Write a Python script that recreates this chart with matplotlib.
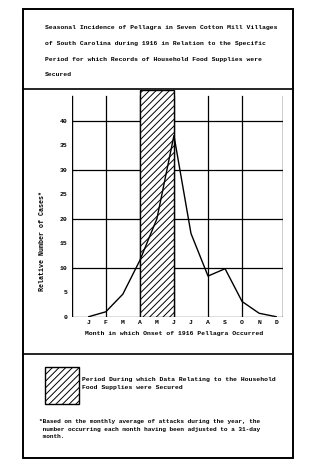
import matplotlib
matplotlib.use("Agg")
import matplotlib.pyplot as plt
from matplotlib.patches import Rectangle
from matplotlib.lines import Line2D

# data
months = list(range(1, 13))
month_labels = ["J", "F", "M", "A", "M", "J", "J", "A", "S", "O", "N", "D"]
cases = [0, 1, 4.6, 11.5, 20, 37, 17, 8.3, 9.8, 3.1, 0.7, 0]
yticks = [0, 5, 10, 15, 20, 25, 30, 35, 40]
survey_period = (4, 6)  # April to June

title_lines = [
    "Seasonal Incidence of Pellagra in Seven Cotton Mill Villages",
    "of South Carolina during 1916 in Relation to the Specific",
    "Period for which Records of Household Food Supplies were",
    "Secured",
]
legend_lines = [
    "Period During which Data Relating to the Household",
    "Food Supplies were Secured",
]
note_lines = [
    "*Based on the monthly average of attacks during the year, the",
    " number occurring each month having been adjusted to a 31-day",
    " month.",
]

W, H = 310, 475
font = "Liberation Mono"
plt.rcParams["hatch.linewidth"] = 0.7

fig = plt.figure(figsize=(W / 100, H / 100), dpi=100)
fig.patch.set_facecolor("white")


def fx(px):
    return px / W


def fy(py):
    return 1 - py / H


# outer frame and dividers
fig.patches.append(Rectangle((fx(23), fy(458)), fx(270), 449 / H, transform=fig.transFigure,
                             fill=False, lw=1.4, ec="black"))
for py in [89, 354]:
    fig.lines.append(Line2D([fx(23), fx(293)], [fy(py), fy(py)], transform=fig.transFigure,
                            lw=1.2, color="black"))

# title block
for i, line in enumerate(title_lines):
    fig.text(fx(45), fy(27 + i * 16), line, family=font, weight="bold", fontsize=4.6,
             ha="left", va="center")

# chart
ymax_top = 46.3
ax = fig.add_axes([fx(71.7), fy(316.7), fx(283 - 71.7), (316.7 - 90) / H])
ax.set_xlim(0, 12.4)
ax.set_ylim(0, ymax_top)
for s in ax.spines.values():
    s.set_visible(False)
ax.set_facecolor("none")

grid_top = 45 / ymax_top
ax.axvline(0, ymax=grid_top, color="black", lw=1.0, zorder=2)
ax.axvline(12.4, ymax=grid_top, color="black", lw=1.0, zorder=2)
for xv in [2, 4, 6, 8, 10]:
    ax.axvline(xv, ymax=grid_top, color="black", lw=0.9, zorder=2)
for yv in [0, 10, 20, 30, 40]:
    ax.axhline(yv, color="black", lw=0.9, zorder=2)

ax.axvspan(survey_period[0], survey_period[1], ymin=0, ymax=1, facecolor="white",
           edgecolor="black", hatch="/////", lw=1.0, zorder=3)

ax.plot(months, cases, color="black", lw=1.0, zorder=4)

ax.set_xticks(months)
ax.set_xticklabels(month_labels)
ax.set_yticks(yticks)
ax.tick_params(axis="both", length=0, labelsize=4.6)
ax.tick_params(axis="x", pad=2.5)
ax.tick_params(axis="y", pad=3)
for lab in ax.get_xticklabels() + ax.get_yticklabels():
    lab.set_family(font)
    lab.set_weight("bold")

fig.text(fx(43), fy(241), "Relative Number of Cases*", rotation=90, family=font,
         weight="bold", fontsize=4.8, ha="center", va="center")
fig.text(fx(174), fy(334), "Month in which Onset of 1916 Pellagra Occurred", family=font,
         weight="bold", fontsize=4.6, ha="center", va="center")

# legend block
fig.patches.append(Rectangle((fx(45), fy(404)), fx(34), 37 / H, transform=fig.transFigure,
                             facecolor="white", edgecolor="black", hatch="/////", lw=1.0))
for i, line in enumerate(legend_lines):
    fig.text(fx(82), fy(380 + i * 7.5), line, family=font, weight="bold", fontsize=4.6,
             ha="left", va="center")
for i, line in enumerate(note_lines):
    fig.text(fx(39), fy(422 + i * 7), line, family=font, weight="bold", fontsize=4.4,
             ha="left", va="center")

fig.savefig("out.png", dpi=100)
